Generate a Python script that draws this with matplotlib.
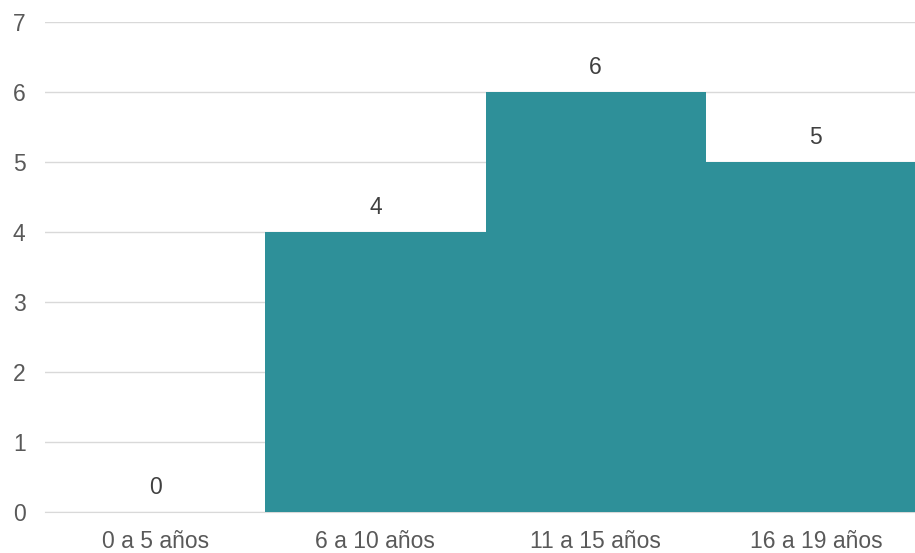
import matplotlib.pyplot as plt

plt.rcParams['font.family'] = ['Liberation Sans', 'DejaVu Sans']

categorias = ['0 a 5 años', '6 a 10 años', '11 a 15 años', '16 a 19 años']
valores = [0, 4, 6, 5]

fig = plt.figure(figsize=(9.15, 5.53), dpi=100)
ax = fig.add_axes([45 / 915, 41 / 553, 1 - 45 / 915, 490 / 553])

x = range(len(categorias))
ax.bar(x, valores, width=1.0, color='#2E9099', zorder=3)
for i, v in zip(x, valores):
    ax.annotate(str(v), (i, v), xytext=(0, 9), textcoords='offset points',
                ha='center', va='bottom', fontsize=16.5, color='#404040')

ax.set_xlim(-0.5, 3.45)
ax.set_ylim(0, 7)
ax.set_yticks(range(0, 8))
ax.set_xticks(list(x))
ax.set_xticklabels(categorias)
ax.yaxis.grid(True, color='#d9d9d9', linewidth=1)
ax.set_axisbelow(True)
for s in ['top', 'right', 'left']:
    ax.spines[s].set_visible(False)
ax.spines['bottom'].set_color('#d9d9d9')
ax.tick_params(axis='both', length=0, labelsize=16.5, colors='#595959')
ax.tick_params(axis='y', pad=14)
ax.tick_params(axis='x', pad=13)

fig.savefig('out.png', dpi=100)
